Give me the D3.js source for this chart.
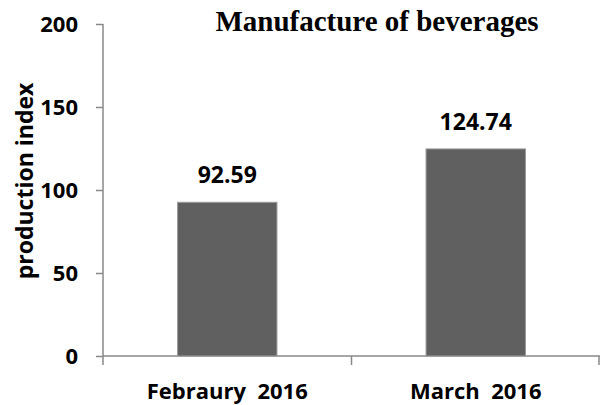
<!DOCTYPE html>
<html>
<head>
<meta charset="utf-8">
<script src="https://cdn.jsdelivr.net/npm/d3@7"></script>
<style>
  body { margin: 0; background: #fff; }
  svg { display: block; }
  .tick text, .lbl { font-family: "Open Sans", sans-serif; font-weight: bold; fill: #000; }
</style>
</head>
<body>
<svg id="chart" width="602" height="405"></svg>
<script>
  // data
  var categories = ['Febraury  2016', 'March  2016']
  var values = [92.59, 124.74]
  var yTicks = [0, 50, 100, 150, 200]

  var colorBar = '#606060'
  var colorAxis = '#888888'

  var svg = d3.select('#chart')

  var x = d3.scaleBand()
    .domain(categories)
    .range([103, 600])
    .paddingInner(0.6)
    .paddingOuter(0.3)

  var y = d3.scaleLinear()
    .domain([0, 200])
    .range([356, 24])

  // y axis
  var yAxis = svg.append('g')
    .attr('transform', 'translate(103,0)')
    .call(d3.axisLeft(y).tickValues(yTicks).tickSize(7).tickPadding(18).tickFormat(d3.format('d')))
  yAxis.selectAll('path, line').attr('stroke', colorAxis).attr('stroke-width', 1.5)
  yAxis.select('.domain').attr('d', 'M0,' + y(200) + 'V' + (y(0) + 9))
  yAxis.selectAll('.tick text').style('font-size', '22px')

  // x axis line + category ticks
  svg.append('line')
    .attr('x1', x.range()[0]).attr('x2', x.range()[1])
    .attr('y1', y(0)).attr('y2', y(0))
    .attr('stroke', colorAxis).attr('stroke-width', 1.5)

  var bounds = categories.map(function (c) {
    return x(c) - x.step() * x.paddingInner() / 2
  })
  bounds.push(x.range()[1] - 1)
  svg.selectAll('.xtick')
    .data(bounds.slice(1))
    .enter().append('line')
    .attr('class', 'xtick')
    .attr('x1', function (d) { return d }).attr('x2', function (d) { return d })
    .attr('y1', y(0)).attr('y2', y(0) + 9)
    .attr('stroke', colorAxis).attr('stroke-width', 1.5)

  // bars
  svg.selectAll('.bar')
    .data(values)
    .enter().append('rect')
    .attr('class', 'bar')
    .attr('x', function (d, i) { return x(categories[i]) })
    .attr('width', x.bandwidth())
    .attr('y', function (d) { return y(d) })
    .attr('height', function (d) { return y(0) - y(d) })
    .attr('fill', colorBar)
    .attr('stroke', '#9a9a9a')
    .attr('stroke-width', 1)

  // value labels
  svg.selectAll('.val')
    .data(values)
    .enter().append('text')
    .attr('class', 'lbl')
    .attr('x', function (d, i) { return x(categories[i]) + x.bandwidth() / 2 })
    .attr('y', function (d) { return y(d) - 19 })
    .attr('text-anchor', 'middle')
    .style('font-size', '23px')
    .text(function (d) { return d.toFixed(2) })

  // category labels
  svg.selectAll('.cat')
    .data(categories)
    .enter().append('text')
    .attr('class', 'lbl')
    .attr('x', function (d) { return x(d) + x.bandwidth() / 2 })
    .attr('y', 399)
    .attr('text-anchor', 'middle')
    .style('font-size', '22px')
    .style('white-space', 'pre')
    .text(function (d) { return d })

  // y axis title
  svg.append('text')
    .attr('class', 'lbl')
    .attr('transform', 'translate(33,181) rotate(-90)')
    .attr('text-anchor', 'middle')
    .style('font-size', '23px')
    .text('production index')

  // chart title
  svg.append('text')
    .attr('x', 377)
    .attr('y', 31)
    .attr('text-anchor', 'middle')
    .style('font-family', '"Liberation Serif", "Times New Roman", serif')
    .style('font-weight', 'bold')
    .style('font-size', '29px')
    .text('Manufacture of beverages')
</script>
</body>
</html>
